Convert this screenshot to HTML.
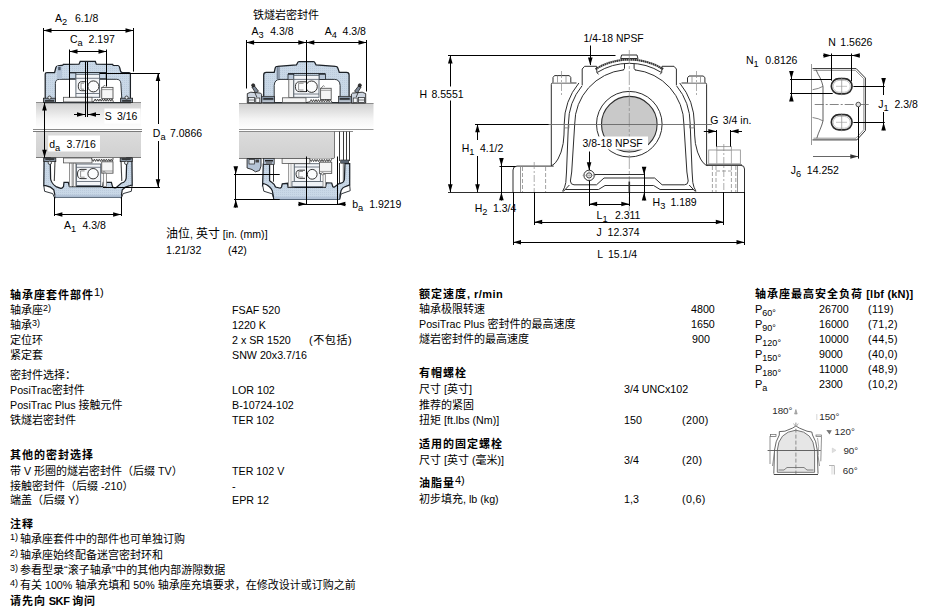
<!DOCTYPE html>
<html lang="zh"><head><meta charset="utf-8"><title>FSAF 520</title>
<style>
html,body{margin:0;padding:0;background:#fff;}
body{width:928px;height:615px;position:relative;overflow:hidden;font-family:"Liberation Sans","Noto Sans CJK SC",sans-serif;font-size:11px;color:#000;}
.t{position:absolute;white-space:nowrap;line-height:14px;height:14px;font-size:11px;}
.b{font-weight:bold;letter-spacing:1px;}
.b sup{font-weight:normal;letter-spacing:0;}
.l{font-size:10.7px;}
.b .l{font-size:11px;}
.d{font-size:12px;}
.d .l{font-size:10.6px;}
sup{font-size:9px;line-height:0;vertical-align:3px;margin-right:2px;}
sub{font-size:9px;line-height:0;vertical-align:-3px;}
sub .l,sup .l{font-size:inherit;}
.p{letter-spacing:.35px;}
svg{position:absolute;left:0;top:0;}
svg text{font-family:"Liberation Sans","Noto Sans CJK SC",sans-serif;}
</style></head><body>
<div class="t b" style="left:10px;top:288px">轴承座套件部件<sup><span class="l">1)</span></sup></div>
<div class="t " style="left:10px;top:303px">轴承座<sup><span class="l">2)</span></sup></div>
<div class="t " style="left:10px;top:318px">轴承<sup><span class="l">3)</span></sup></div>
<div class="t " style="left:10px;top:333px">定位环</div>
<div class="t " style="left:10px;top:348px">紧定套</div>
<div class="t " style="left:10px;top:368px">密封件选择：</div>
<div class="t " style="left:10px;top:383px"><span class="l">PosiTrac</span>密封件</div>
<div class="t " style="left:10px;top:398px"><span class="l">PosiTrac Plus </span>接触元件</div>
<div class="t " style="left:10px;top:413px">铁燧岩密封件</div>
<div class="t b" style="left:10px;top:448px">其他的密封选择</div>
<div class="t " style="left:10px;top:464px">带<span class="l"> V </span>形圈的燧岩密封件（后缀<span class="l"> TV</span>）</div>
<div class="t " style="left:10px;top:479px">接触密封件（后缀<span class="l"> -210</span>）</div>
<div class="t " style="left:10px;top:493px">端盖（后缀<span class="l"> Y</span>）</div>
<div class="t b" style="left:10px;top:517px">注释</div>
<div class="t " style="left:10px;top:532px"><sup><span class="l">1)</span></sup>轴承座套件中的部件也可单独订购</div>
<div class="t " style="left:10px;top:548px"><sup><span class="l">2)</span></sup>轴承座始终配备迷宫密封环和</div>
<div class="t " style="left:10px;top:563px"><sup><span class="l">3)</span></sup>参看型录“滚子轴承”中的其他内部游隙数据</div>
<div class="t " style="left:10px;top:578px"><sup><span class="l">4)</span></sup>有关<span class="l"> 100% </span>轴承充填和<span class="l"> 50% </span>轴承座充填要求，在修改设计或订购之前</div>
<div class="t b" style="left:10px;top:594px">请先向<span style="letter-spacing:-.4px"> SKF </span>询问</div>
<div class="t " style="left:232px;top:303px"><span class="l">FSAF 520</span></div>
<div class="t " style="left:232px;top:318px"><span class="l">1220 K</span></div>
<div class="t " style="left:232px;top:333px"><span class="l">2 x SR 1520</span></div>
<div class="t " style="left:309px;top:333px"><span style="letter-spacing:.6px">(不包括)</span></div>
<div class="t " style="left:232px;top:348px"><span class="l">SNW 20x3.7/16</span></div>
<div class="t " style="left:232px;top:383px"><span class="l">LOR 102</span></div>
<div class="t " style="left:232px;top:398px"><span class="l">B-10724-102</span></div>
<div class="t " style="left:232px;top:413px"><span class="l">TER 102</span></div>
<div class="t " style="left:232px;top:464px"><span class="l">TER 102 V</span></div>
<div class="t " style="left:232px;top:479px">-</div>
<div class="t " style="left:232px;top:493px"><span class="l">EPR 12</span></div>
<div class="t b" style="left:419px;top:287px">额定速度<span style="letter-spacing:.45px">, r/min</span></div>
<div class="t " style="left:419px;top:302px">轴承极限转速</div>
<div class="t " style="left:419px;top:317px"><span class="l">PosiTrac Plus </span>密封件的最高速度</div>
<div class="t " style="left:419px;top:332px">燧岩密封件的最高速度</div>
<div class="t " style="left:691px;top:302px"><span class="l">4800</span></div>
<div class="t " style="left:691px;top:317px"><span class="l">1650</span></div>
<div class="t " style="left:692px;top:332px"><span class="l">900</span></div>
<div class="t b" style="left:419px;top:366px">有帽螺栓</div>
<div class="t " style="left:419px;top:382px">尺寸<span class="l"> [</span>英寸]</div>
<div class="t " style="left:419px;top:398px">推荐的紧固</div>
<div class="t " style="left:419px;top:413px">扭矩<span class="l"> [ft.lbs (Nm)]</span></div>
<div class="t " style="left:624px;top:382px"><span class="l">3/4 UNCx102</span></div>
<div class="t " style="left:624px;top:413px"><span class="l">150</span></div>
<div class="t p" style="left:682px;top:413px"><span class="l">(200)</span></div>
<div class="t b" style="left:419px;top:437px">适用的固定螺栓</div>
<div class="t " style="left:419px;top:453px">尺寸<span class="l"> [</span>英寸<span class="l"> (</span>毫米<span class="l">)]</span></div>
<div class="t " style="left:624px;top:453px"><span class="l">3/4</span></div>
<div class="t p" style="left:682px;top:453px"><span class="l">(20)</span></div>
<div class="t b" style="left:419px;top:476px">油脂量<sup><span class="l">4)</span></sup></div>
<div class="t " style="left:419px;top:492px">初步填充<span class="l">, lb (kg)</span></div>
<div class="t " style="left:624px;top:492px"><span class="l">1,3</span></div>
<div class="t p" style="left:682px;top:492px"><span class="l">(0,6)</span></div>
<div class="t b" style="left:755px;top:287px">轴承座最高安全负荷<span style="letter-spacing:.2px"> [lbf (kN)]</span></div>
<div class="t " style="left:755px;top:302px">P<sub><span class="l">60</span>°</sub></div>
<div class="t " style="left:819px;top:302px"><span class="l">26700</span></div>
<div class="t p" style="left:868px;top:302px"><span class="l">(119)</span></div>
<div class="t " style="left:755px;top:317px">P<sub><span class="l">90</span>°</sub></div>
<div class="t " style="left:819px;top:317px"><span class="l">16000</span></div>
<div class="t p" style="left:868px;top:317px"><span class="l">(71,2)</span></div>
<div class="t " style="left:755px;top:332px">P<sub><span class="l">120</span>°</sub></div>
<div class="t " style="left:819px;top:332px"><span class="l">10000</span></div>
<div class="t p" style="left:868px;top:332px"><span class="l">(44,5)</span></div>
<div class="t " style="left:755px;top:347px">P<sub><span class="l">150</span>°</sub></div>
<div class="t " style="left:819px;top:347px"><span class="l">9000</span></div>
<div class="t p" style="left:868px;top:347px"><span class="l">(40,0)</span></div>
<div class="t " style="left:755px;top:362px">P<sub><span class="l">180</span>°</sub></div>
<div class="t " style="left:819px;top:362px"><span class="l">11000</span></div>
<div class="t p" style="left:868px;top:362px"><span class="l">(48,9)</span></div>
<div class="t " style="left:755px;top:377px">P<sub>a</sub></div>
<div class="t " style="left:819px;top:377px"><span class="l">2300</span></div>
<div class="t p" style="left:868px;top:377px"><span class="l">(10,2)</span></div>
<div class="t d" style="left:166px;top:227px">油位<span class="l">, </span>英寸<span class="l"> [in. (mm)]</span></div>
<div class="t d" style="left:166px;top:243px"><span class="l">1.21/32</span></div>
<div class="t d" style="left:228px;top:243px"><span class="l">(42)</span></div>
<div class="t " style="left:253px;top:8px">铁燧岩密封件</div>
<svg width="928" height="615" viewBox="0 0 928 615">
<defs><linearGradient id="shU" x1="0" y1="0" x2="0" y2="1"><stop offset="0" stop-color="#cfcfcf"/><stop offset="0.6" stop-color="#f4f4f4"/><stop offset="1" stop-color="#ffffff"/></linearGradient><linearGradient id="shL" x1="0" y1="0" x2="0" y2="1"><stop offset="0" stop-color="#dcdcdc"/><stop offset="1" stop-color="#d0d0d0"/></linearGradient><linearGradient id="baseF" x1="0" y1="0" x2="0" y2="1"><stop offset="0" stop-color="#d5e0ea"/><stop offset="1" stop-color="#ffffff"/></linearGradient><pattern id="hat" width="2" height="2" patternUnits="userSpaceOnUse"><rect width="2" height="2" fill="#c9d8e7"/><rect width="1" height="1" fill="#bccbdc"/></pattern></defs>
<rect x="36" y="102.5" width="105" height="27" fill="url(#shU)" stroke="none" stroke-width="1" />
<rect x="36" y="131" width="105" height="27" fill="url(#shL)" stroke="none" stroke-width="1" />
<line x1="33" y1="129.5" x2="142" y2="129.5" stroke="#8a8a8a" stroke-width="1" />
<line x1="33" y1="131.5" x2="142" y2="131.5" stroke="#7a7a7a" stroke-width="1" />
<line x1="36" y1="102.5" x2="141" y2="102.5" stroke="#8d8d8d" stroke-width="1" />
<line x1="36" y1="157.5" x2="141" y2="157.5" stroke="#777" stroke-width="1" />
<path d="M45.2,102.5 L45.2,74 Q45.2,72.5 47,72.5 L54.6,72.5 L55.9,67.5 Q56.3,66.1 58,65.9 L62.8,65.2 L63.3,64.3 L79,64.2 L80.2,61.4 L95.3,61.4 L96.3,64.2 L112.7,64.3 L113.2,65.4 L118,65.5 Q119.3,65.8 119.8,68 L120.5,71 Q120.9,72.6 122.5,72.6 L129,72.6 Q130.4,72.6 130.4,74.2 L130.4,102.5 Z" fill="url(#hat)" stroke="#1b2026" stroke-width="1.25" />
<path d="M55.4,102.5 L55.4,83.5 Q55.4,79.3 59.5,79.3 L116.5,79.3 Q120.6,79.3 120.9,83.5 L122,102.5 Z" fill="#fff" stroke="#1b2026" stroke-width="0.9" />
<rect x="57" y="66" width="5" height="13" fill="#b3c3d6" stroke="none" stroke-width="1" />
<rect x="58.2" y="66.8" width="2.4" height="3.4" fill="#4a5564" stroke="none" stroke-width="1" />
<rect x="69.4" y="73" width="6.5" height="5.5" fill="#c6d5e5" stroke="#1b2026" stroke-width="0.7" />
<rect x="99.6" y="73" width="6.5" height="5.5" fill="#c6d5e5" stroke="#1b2026" stroke-width="0.7" />
<line x1="69.4" y1="72.5" x2="106" y2="72.5" stroke="#1b2026" stroke-width="0.9" />
<rect x="75.9" y="74.3" width="23.7" height="23" fill="#f3f5f8" stroke="#55606c" stroke-width="0.9" />
<line x1="75.9" y1="78.3" x2="99.6" y2="78.3" stroke="#55606c" stroke-width="0.8" />
<line x1="75.9" y1="93.5" x2="99.6" y2="93.5" stroke="#55606c" stroke-width="0.8" />
<circle cx="93.4" cy="86.4" r="5.5" fill="#fbfcfd" stroke="#333" stroke-width="1"/>
<path d="M86.3,81.7 L81.5,81.7 Q78.3,81.7 78.3,86.2 Q78.3,90.7 81.5,90.7 L86.3,90.7" fill="#fbfcfd" stroke="#333" stroke-width="1" />
<path d="M84,83.2 L81,83.2 L81,89.2 L84,89.2" fill="none" stroke="#777" stroke-width="0.8" />
<rect x="63.5" y="97.3" width="28.5" height="4.6" fill="#f4f4f4" stroke="#555" stroke-width="0.8" />
<path d="M92,102 L94.0,101.2 L95.2,99.0 L96.4,101.2 L97.6,99.0 L98.8,101.2 L100.0,99.0 L101.2,101.2 L102.4,99.0 L103.6,101.2 L104.8,99.0 L106.0,101.2 L107.2,99.0 L108.4,101.2 L109.6,99.0 L110.8,101.2 L112.0,99.0 L113.2,101.2 L113.2,102" fill="#f4f4f4" stroke="#222" stroke-width="0.8" />
<rect x="101.7" y="87.4" width="11.3" height="11.2" fill="#f6f6f6" stroke="#555" stroke-width="0.9" />
<line x1="101.8" y1="89.6" x2="113" y2="89.6" stroke="#777" stroke-width="0.7" />
<path d="M101.8,88 L104.5,85.2 L105.5,86.2" fill="none" stroke="#555" stroke-width="0.8" />
<line x1="99.8" y1="90" x2="99.8" y2="98" stroke="#555" stroke-width="0.8" />
<rect x="43.5" y="98.2" width="12" height="4.3" fill="#8b97a5" stroke="#222" stroke-width="0.8" />
<circle cx="49.5" cy="97.6" r="1.6" fill="#e8eef4" stroke="#222" stroke-width="0.8"/>
<rect x="45" y="100.2" width="9" height="1.4" fill="#222" stroke="none" stroke-width="1" />
<rect x="120.6" y="98.2" width="12" height="4.3" fill="#8b97a5" stroke="#222" stroke-width="0.8" />
<circle cx="126.6" cy="97.6" r="1.6" fill="#e8eef4" stroke="#222" stroke-width="0.8"/>
<rect x="122.1" y="100.2" width="9" height="1.4" fill="#222" stroke="none" stroke-width="1" />
<path d="M44.1,158 L43.8,185.6 L45.7,185.6 Q51,186.5 53.8,189.9 L55.4,197.4 L121.1,197.4 L122.2,189.9 Q125,186.5 129.8,185.6 L132.2,185 L131.9,158 L126.8,158 L126.2,178 Q125.5,182.5 121.5,183 L116,187.7 Q113.2,188.3 112.5,186.6 L111.4,182.3 L103.3,182.3 L102.8,186.6 L69.4,186.6 L68.3,182.3 L64,182.3 L63.5,186.6 Q62,188.6 60.8,188.3 L56,186.6 Q51.5,183.5 50.6,179 L50.2,158 Z" fill="url(#hat)" stroke="#1b2026" stroke-width="1.25" />
<rect x="55.4" y="194.7" width="65.7" height="2.7" fill="#b4c4d8" stroke="none" stroke-width="1" />
<line x1="55.4" y1="197.4" x2="121.1" y2="197.4" stroke="#6a7a8c" stroke-width="0.8" />
<path d="M43.8,185.6 L44.6,191.3 L52.7,193.6 L54.9,198.5" fill="none" stroke="#1b2026" stroke-width="0.9" />
<path d="M132.2,185 L131.3,191.3 L123.2,193.6 L121.1,198.5" fill="none" stroke="#1b2026" stroke-width="0.9" />
<path d="M55,160 L54.3,181" fill="none" stroke="#444" stroke-width="1.1" />
<path d="M121,160 L121.8,181" fill="none" stroke="#444" stroke-width="1.1" />
<rect x="69.4" y="163" width="2.7" height="23.6" fill="#fafafa" stroke="#666" stroke-width="0.7" />
<rect x="73.2" y="163" width="2.7" height="23.6" fill="#fafafa" stroke="#666" stroke-width="0.7" />
<rect x="76.4" y="164" width="24.3" height="21.6" fill="#f3f5f8" stroke="#55606c" stroke-width="0.9" />
<line x1="76.4" y1="167.3" x2="100.7" y2="167.3" stroke="#55606c" stroke-width="0.8" />
<line x1="76.4" y1="181.5" x2="100.7" y2="181.5" stroke="#55606c" stroke-width="0.8" />
<circle cx="93.1" cy="173.7" r="5.2" fill="#fbfcfd" stroke="#333" stroke-width="1"/>
<path d="M86.6,169.4 L81,169.4 Q77.5,169.4 77.5,174 Q77.5,178.6 81,178.6 L86.6,178.6" fill="#fbfcfd" stroke="#333" stroke-width="1" />
<path d="M84.6,170.9 L80.6,170.9 L80.6,177.2 L84.6,177.2" fill="none" stroke="#777" stroke-width="0.8" />
<rect x="63.5" y="158" width="28.5" height="4.9" fill="#f4f4f4" stroke="#555" stroke-width="0.8" />
<path d="M91.5,158 L92.0,159.2 L93.2,161.4 L94.4,159.2 L95.6,161.4 L96.8,159.2 L98.0,161.4 L99.2,159.2 L100.4,161.4 L101.6,159.2 L102.8,161.4 L104.0,159.2 L105.2,161.4 L106.4,159.2 L107.6,161.4 L108.8,159.2 L110.0,161.4 L111.2,159.2 L112.4,161.4 L113.0,159.2 L113,158" fill="#f4f4f4" stroke="#222" stroke-width="0.8" />
<rect x="101.7" y="161.8" width="11.3" height="11.4" fill="#f6f6f6" stroke="#555" stroke-width="0.9" />
<line x1="101.7" y1="171" x2="113" y2="171" stroke="#777" stroke-width="0.7" />
<circle cx="104" cy="172.3" r="1" fill="#fff" stroke="#555" stroke-width="0.6"/>
<rect x="103.3" y="173.2" width="3.3" height="13.4" fill="#fafafa" stroke="#666" stroke-width="0.7" />
<rect x="43.8" y="158" width="12" height="3.6" fill="#8b97a5" stroke="#222" stroke-width="0.8" />
<circle cx="49.8" cy="162.8" r="1.7" fill="#e8eef4" stroke="#222" stroke-width="0.8"/>
<rect x="45.3" y="158.4" width="9" height="1.4" fill="#222" stroke="none" stroke-width="1" />
<rect x="120.2" y="158" width="12" height="3.6" fill="#8b97a5" stroke="#222" stroke-width="0.8" />
<circle cx="126.2" cy="162.8" r="1.7" fill="#e8eef4" stroke="#222" stroke-width="0.8"/>
<rect x="121.7" y="158.4" width="9" height="1.4" fill="#222" stroke="none" stroke-width="1" />
<line x1="43.5" y1="28" x2="43.5" y2="71.6" stroke="#000" stroke-width="1" />
<line x1="133.5" y1="28" x2="133.5" y2="71.6" stroke="#000" stroke-width="1" />
<line x1="43.5" y1="30.5" x2="133.5" y2="30.5" stroke="#000" stroke-width="1" /><polygon points="43.5,30.5 51.5,28.2 51.5,32.8" fill="#000"/><polygon points="133.5,30.5 125.5,28.2 125.5,32.8" fill="#000"/>
<line x1="69.5" y1="49.5" x2="69.5" y2="97.5" stroke="#000" stroke-width="1" />
<line x1="106.5" y1="49.5" x2="106.5" y2="86.5" stroke="#000" stroke-width="1" />
<line x1="69.5" y1="51.5" x2="106.5" y2="51.5" stroke="#000" stroke-width="1" /><polygon points="69.5,51.5 77.5,49.2 77.5,53.8" fill="#000"/><polygon points="106.5,51.5 98.5,49.2 98.5,53.8" fill="#000"/>
<line x1="85.5" y1="62" x2="85.5" y2="117" stroke="#000" stroke-width="1" />
<line x1="87.5" y1="62" x2="87.5" y2="117" stroke="#000" stroke-width="1" />
<line x1="74" y1="114.5" x2="85" y2="114.5" stroke="#000" stroke-width="1" />
<polygon points="85,114.5 77,112.2 77,116.8" fill="#000"/>
<line x1="88" y1="114.5" x2="100" y2="114.5" stroke="#000" stroke-width="1" />
<polygon points="88,114.5 96,112.2 96,116.8" fill="#000"/>
<line x1="100" y1="73.5" x2="160" y2="73.5" stroke="#000" stroke-width="1" />
<line x1="103" y1="187.5" x2="160" y2="187.5" stroke="#000" stroke-width="1" />
<line x1="158.5" y1="73.1" x2="158.5" y2="187.2" stroke="#000" stroke-width="1" /><polygon points="158,73.1 155.7,81.1 160.3,81.1" fill="#000"/><polygon points="158,187.2 155.7,179.2 160.3,179.2" fill="#000"/>
<line x1="44.5" y1="102.5" x2="44.5" y2="157.7" stroke="#000" stroke-width="1" /><polygon points="44.5,102.5 42.2,110.5 46.8,110.5" fill="#000"/><polygon points="44.5,157.7 42.2,149.7 46.8,149.7" fill="#000"/>
<line x1="54.5" y1="197" x2="54.5" y2="216" stroke="#000" stroke-width="1" />
<line x1="121.5" y1="197" x2="121.5" y2="216" stroke="#000" stroke-width="1" />
<line x1="54.4" y1="214.5" x2="121.1" y2="214.5" stroke="#000" stroke-width="1" /><polygon points="54.4,214.5 62.4,212.2 62.4,216.8" fill="#000"/><polygon points="121.1,214.5 113.1,212.2 113.1,216.8" fill="#000"/>
<rect x="48.2" y="135.5" width="51.8" height="16" fill="#fff" stroke="none" stroke-width="1" />
<rect x="104.4" y="108.5" width="36.2" height="15.2" fill="#fff" stroke="none" stroke-width="1" />
<rect x="150" y="124" width="60" height="17" fill="#fff" stroke="none" stroke-width="1" />
<text x="55" y="21.5" font-size="10.5">A<tspan dy="3" font-size="9.24">2</tspan><tspan dy="-3" x="75">6.1/8</tspan></text>
<text x="69.9" y="43" font-size="10.5">C<tspan dy="3" font-size="9.24">a</tspan><tspan dy="-3" x="88.6">2.197</tspan></text>
<text x="104.8" y="119.6" font-size="10.5" text-anchor="start" >S</text>
<text x="117" y="119.6" font-size="10.5" text-anchor="start" >3/16</text>
<text x="49.2" y="148" font-size="10.5">d<tspan dy="3" font-size="9.24">a</tspan><tspan dy="-3" x="66.6">3.7/16</tspan></text>
<text x="152.8" y="137" font-size="10.5">D<tspan dy="3" font-size="9.24">a</tspan><tspan dy="-3" x="170">7.0866</tspan></text>
<text x="64" y="229" font-size="10.5">A<tspan dy="3" font-size="9.24">1</tspan><tspan dy="-3" x="82.5">4.3/8</tspan></text>
<rect x="239" y="103" width="134.5" height="27" fill="url(#shU)" stroke="none" stroke-width="1" />
<rect x="239" y="131" width="95.2" height="27" fill="url(#shL)" stroke="none" stroke-width="1" />
<line x1="239" y1="129.5" x2="373.5" y2="129.5" stroke="#9a9a9a" stroke-width="1" />
<line x1="239" y1="131.5" x2="353" y2="131.5" stroke="#8a8a8a" stroke-width="1" />
<line x1="239" y1="103.5" x2="373.5" y2="103.5" stroke="#8d8d8d" stroke-width="1" />
<line x1="239" y1="158.5" x2="334.2" y2="158.5" stroke="#777" stroke-width="1" />
<line x1="334.5" y1="131" x2="334.5" y2="158" stroke="#777" stroke-width="1" />
<line x1="339.5" y1="131.5" x2="339.5" y2="161" stroke="#3a3a3a" stroke-width="1" />
<line x1="343.5" y1="131.5" x2="343.5" y2="161" stroke="#3a3a3a" stroke-width="1" />
<line x1="346.5" y1="131.5" x2="346.5" y2="161" stroke="#3a3a3a" stroke-width="1" />
<line x1="349.5" y1="131.5" x2="349.5" y2="161" stroke="#3a3a3a" stroke-width="1" />
<rect x="340.7" y="160" width="8" height="3.2" fill="#5a6573" stroke="#222" stroke-width="0.6" />
<path d="M263.7,102.5 L263.7,75 Q263.7,72.4 266.3,72.4 L274.2,72.4 L275.2,68 Q275.6,66.5 277.5,66.4 L296.5,64.8 L298,62 Q298.3,61.5 299.5,61.5 L313.3,61.5 Q314.2,61.5 314.5,62 L316,64.8 L335.5,66.4 Q337.3,66.5 337.8,68 L339.3,72.4 L346.5,72.4 Q349.1,72.4 349.1,75 L349.1,102.5 Z" fill="url(#hat)" stroke="#1b2026" stroke-width="1.25" />
<path d="M274.2,102.5 L274.2,85.5 Q274.5,79.4 280,79.4 L334.5,79.4 Q339.8,79.4 340.1,85.5 L340.1,102.5 Z" fill="#fff" stroke="#1b2026" stroke-width="0.9" />
<rect x="276.5" y="67" width="3.2" height="12" fill="#b3c3d6" stroke="none" stroke-width="1" />
<line x1="277.3" y1="67" x2="277.3" y2="79" stroke="#4a5564" stroke-width="0.7" />
<line x1="279" y1="67" x2="279" y2="79" stroke="#4a5564" stroke-width="0.7" />
<rect x="288" y="74.3" width="5.8" height="5.2" fill="#b9c8da" stroke="#1b2026" stroke-width="0.8" />
<rect x="319" y="74.3" width="6.5" height="5.2" fill="#b9c8da" stroke="#1b2026" stroke-width="0.8" />
<line x1="288" y1="73.5" x2="325.5" y2="73.5" stroke="#1b2026" stroke-width="0.9" />
<rect x="288.8" y="79.4" width="5" height="18" fill="#f4f4f4" stroke="#555" stroke-width="0.8" />
<rect x="293.8" y="75.3" width="25.2" height="22" fill="#f3f5f8" stroke="#55606c" stroke-width="0.9" />
<line x1="293.8" y1="79.4" x2="319" y2="79.4" stroke="#55606c" stroke-width="0.8" />
<line x1="293.8" y1="94" x2="319" y2="94" stroke="#55606c" stroke-width="0.8" />
<circle cx="311.6" cy="86.7" r="5.7" fill="#fbfcfd" stroke="#333" stroke-width="1"/>
<path d="M306,81.8 L299.5,81.8 Q295.4,81.8 295.4,86.7 Q295.4,91.6 299.5,91.6 L306,91.6" fill="#fbfcfd" stroke="#333" stroke-width="1" />
<path d="M303.5,83.3 L298.6,83.3 L298.6,90 L303.5,90" fill="none" stroke="#777" stroke-width="0.8" />
<rect x="282.4" y="97.8" width="23.6" height="4.6" fill="#f4f4f4" stroke="#555" stroke-width="0.8" />
<rect x="320.6" y="88.3" width="10.6" height="11.2" fill="#f6f6f6" stroke="#555" stroke-width="0.9" />
<line x1="320.6" y1="90.3" x2="331.2" y2="90.3" stroke="#777" stroke-width="0.7" />
<path d="M320.6,88.6 L323.5,85.6 L324.5,86.6" fill="none" stroke="#555" stroke-width="0.8" />
<path d="M306,102.6 L310.0,101.8 L311.2,99.6 L312.4,101.8 L313.6,99.6 L314.8,101.8 L316.0,99.6 L317.2,101.8 L318.4,99.6 L319.6,101.8 L320.8,99.6 L322.0,101.8 L323.2,99.6 L324.4,101.8 L325.6,99.6 L326.8,101.8 L328.0,99.6 L329.2,101.8 L330.4,99.6 L331.6,101.8 L332.0,101.8 L332,102.6" fill="#f4f4f4" stroke="#222" stroke-width="0.8" />
<rect x="258.9" y="96.3" width="15.6" height="6.5" fill="#8795a6" stroke="#222" stroke-width="0.7" /><rect x="263.3" y="98.2" width="10" height="1.4" fill="#1c1c1c" stroke="none" stroke-width="1" /><rect x="262.3" y="100.6" width="11.5" height="1" fill="#dfe5ec" stroke="none" stroke-width="1" /><path d="M247.3,103 L247.3,93.6 L250.8,92.2 L260.5,93.1 L261.6,94.2 L261.6,103 Z" fill="#ccd4df" stroke="#222" stroke-width="0.9" /><path d="M251.9,87 L254.5,86 L258.5,91.2 L255.6,93 Z" fill="#7d8998" stroke="#222" stroke-width="0.8" /><circle cx="253.2" cy="85.3" r="1.6" fill="#333" stroke="#111" stroke-width="0.6"/><path d="M254.8,92.5 L256.8,97" fill="none" stroke="#222" stroke-width="0.8" /><rect x="248.5" y="97.6" width="6" height="5" fill="#eef1f5" stroke="#222" stroke-width="0.7" /><line x1="248.5" y1="100" x2="254.5" y2="100" stroke="#444" stroke-width="0.7" /><rect x="255.8" y="98" width="4" height="4.6" fill="#f4f6f8" stroke="#222" stroke-width="0.7" />
<rect x="338.5" y="96.3" width="15.6" height="6.5" fill="#8795a6" stroke="#222" stroke-width="0.7" /><rect x="339.7" y="98.2" width="10" height="1.4" fill="#1c1c1c" stroke="none" stroke-width="1" /><rect x="339.2" y="100.6" width="11.5" height="1" fill="#dfe5ec" stroke="none" stroke-width="1" /><path d="M365.7,103 L365.7,93.6 L362.2,92.2 L352.5,93.1 L351.4,94.2 L351.4,103 Z" fill="#ccd4df" stroke="#222" stroke-width="0.9" /><path d="M361.1,87 L358.5,86 L354.5,91.2 L357.4,93 Z" fill="#7d8998" stroke="#222" stroke-width="0.8" /><circle cx="359.8" cy="85.3" r="1.6" fill="#333" stroke="#111" stroke-width="0.6"/><path d="M358.2,92.5 L356.2,97" fill="none" stroke="#222" stroke-width="0.8" /><rect x="358.5" y="97.6" width="6" height="5" fill="#eef1f5" stroke="#222" stroke-width="0.7" /><line x1="358.5" y1="100" x2="364.5" y2="100" stroke="#444" stroke-width="0.7" /><rect x="353.2" y="98" width="4" height="4.6" fill="#f4f6f8" stroke="#222" stroke-width="0.7" />
<path d="M263.3,164 L262.6,184.9 L263.5,183.5 Q267,184.5 269.1,186.5 Q271.5,188.5 272.3,190.7 L273.9,199.2 L339.6,199.2 L340.2,194.4 L341.2,190.2 Q342.5,187.8 344.4,187 Q347.5,185.8 349.7,184.9 L349.7,163.5 L345,163.5 L344.4,179.6 Q343.5,182.8 341,183.2 L338.6,183.8 L334.5,187 Q333,187.6 332.6,186 L331.7,183 L326.4,182.8 L325.4,187.4 L288.1,187.4 L287.6,183.3 L282.3,183.8 L281.5,187 Q281,188.3 279.5,188 L275.5,187 Q274.5,184 272,182.5 L269.6,180.7 L269.6,164 Z" fill="url(#hat)" stroke="#1b2026" stroke-width="1.25" />
<rect x="273.9" y="196.6" width="65.7" height="2.6" fill="#b4c4d8" stroke="none" stroke-width="1" />
<line x1="273.9" y1="199.5" x2="339.6" y2="199.5" stroke="#56677a" stroke-width="0.9" />
<path d="M262.6,184.9 L263.8,191.2 L272.3,193.9 L273.9,199.2" fill="none" stroke="#1b2026" stroke-width="0.9" />
<path d="M349.7,184.9 L350.2,190.7 L341.2,193.9 L339.6,199.2" fill="none" stroke="#1b2026" stroke-width="0.9" />
<line x1="273.5" y1="159" x2="273.5" y2="181.7" stroke="#333" stroke-width="1" />
<line x1="339.5" y1="163" x2="339.5" y2="183" stroke="#333" stroke-width="1" />
<line x1="343.3" y1="163" x2="343.3" y2="181" stroke="#555" stroke-width="0.8" />
<path d="M247.1,158.5 L261,158.5 L261,166 L259.5,170.5 L255.5,171.8 L252,169.5 L247.1,168 Z" fill="#b4c3d6" stroke="#222" stroke-width="0.9" />
<rect x="249" y="159.5" width="5.5" height="4.5" fill="#dfe6ee" stroke="#222" stroke-width="0.7" />
<rect x="255.5" y="159.5" width="3.5" height="3" fill="#444" stroke="none" stroke-width="1" />
<rect x="263.4" y="158.5" width="10.8" height="6" fill="#aab7c7" stroke="#222" stroke-width="0.7" />
<rect x="265" y="160" width="8" height="1.5" fill="#222" stroke="none" stroke-width="1" />
<rect x="266" y="162.5" width="6" height="1" fill="#444" stroke="none" stroke-width="1" />
<rect x="288.6" y="163.5" width="5.7" height="23.5" fill="#f2f2f2" stroke="#777" stroke-width="0.7" />
<line x1="291" y1="163.5" x2="291" y2="187" stroke="#999" stroke-width="0.6" />
<rect x="294.3" y="163.7" width="26.1" height="18" fill="#f3f5f8" stroke="#55606c" stroke-width="0.9" />
<line x1="294.3" y1="167" x2="320.4" y2="167" stroke="#55606c" stroke-width="0.8" />
<rect x="292" y="181.6" width="31.6" height="5" fill="#eef2f6" stroke="#55606c" stroke-width="0.8" />
<circle cx="312.2" cy="174.3" r="4.9" fill="#fbfcfd" stroke="#333" stroke-width="1"/>
<path d="M305,170.2 L299.5,170.2 Q296,170.2 296,174.3 Q296,178.3 299.5,178.3 L305,178.3" fill="#fbfcfd" stroke="#333" stroke-width="1" />
<path d="M303,171.5 L298.8,171.5 L298.8,177 L303,177" fill="none" stroke="#777" stroke-width="0.8" />
<rect x="282.1" y="158.5" width="27.7" height="5" fill="#f4f4f4" stroke="#555" stroke-width="0.8" />
<path d="M309.8,158.5 L310.0,159.4 L311.2,161.6 L312.4,159.4 L313.6,161.6 L314.8,159.4 L316.0,161.6 L317.2,159.4 L318.4,161.6 L319.6,159.4 L320.8,161.6 L322.0,159.4 L323.2,161.6 L324.4,159.4 L325.6,161.6 L326.8,159.4 L328.0,161.6 L329.2,159.4 L330.4,161.6 L331.6,159.4 L331.7,159.4 L331.7,158.5" fill="#f4f4f4" stroke="#222" stroke-width="0.8" />
<rect x="319.5" y="162.2" width="12.2" height="11.2" fill="#f6f6f6" stroke="#555" stroke-width="0.9" />
<line x1="319.5" y1="171.4" x2="331.7" y2="171.4" stroke="#777" stroke-width="0.7" />
<circle cx="322.5" cy="173.8" r="1.2" fill="#fff" stroke="#555" stroke-width="0.7"/>
<rect x="323" y="174.5" width="2.5" height="12.5" fill="#f2f2f2" stroke="#777" stroke-width="0.7" />
<line x1="246.5" y1="40" x2="246.5" y2="88.5" stroke="#000" stroke-width="1" />
<line x1="306.5" y1="40" x2="306.5" y2="92" stroke="#000" stroke-width="1" />
<line x1="366.5" y1="40" x2="366.5" y2="91.5" stroke="#000" stroke-width="1" />
<line x1="246.1" y1="42.5" x2="306.3" y2="42.5" stroke="#000" stroke-width="1" /><polygon points="246.1,42.5 254.1,40.2 254.1,44.8" fill="#000"/><polygon points="306.3,42.5 298.3,40.2 298.3,44.8" fill="#000"/>
<line x1="306.3" y1="42.5" x2="366.5" y2="42.5" stroke="#000" stroke-width="1" /><polygon points="306.3,42.5 314.3,40.2 314.3,44.8" fill="#000"/><polygon points="366.5,42.5 358.5,40.2 358.5,44.8" fill="#000"/>
<line x1="306.5" y1="156.5" x2="306.5" y2="205" stroke="#000" stroke-width="1" />
<line x1="337.5" y1="156.5" x2="337.5" y2="205" stroke="#000" stroke-width="1" />
<line x1="298.4" y1="204.5" x2="345.6" y2="204.5" stroke="#000" stroke-width="1" />
<polygon points="306.5,204 298.5,201.7 298.5,206.3" fill="#000"/>
<polygon points="337.4,204 345.4,201.7 345.4,206.3" fill="#000"/>
<line x1="235.5" y1="167" x2="235.5" y2="207.6" stroke="#000" stroke-width="1" />
<polygon points="235.8,174.3 233.5,166.3 238.1,166.3" fill="#000"/>
<polygon points="235.8,199.5 233.5,207.5 238.1,207.5" fill="#000"/>
<line x1="234" y1="174.5" x2="279.7" y2="174.5" stroke="#000" stroke-width="1" />
<line x1="234" y1="199.5" x2="279.7" y2="199.5" stroke="#000" stroke-width="1" />
<text x="251.5" y="34.5" font-size="10.5">A<tspan dy="3" font-size="9.24">3</tspan><tspan dy="-3" x="270.2">4.3/8</tspan></text>
<text x="324.7" y="34.5" font-size="10.5">A<tspan dy="3" font-size="9.24">4</tspan><tspan dy="-3" x="342.6">4.3/8</tspan></text>
<text x="352.2" y="208" font-size="10.5">b<tspan dy="3" font-size="9.24">a</tspan><tspan dy="-3" x="369.2">1.9219</tspan></text>
<circle cx="629.3" cy="124.2" r="32.8" fill="#fff" stroke="#2e2e2e" stroke-width="1"/>
<circle cx="629.3" cy="124.2" r="27.8" fill="#c9c9c9" stroke="#2e2e2e" stroke-width="1.1"/>
<path d="M564.20,124.20 A65.1,65.1 0 0 1 578.92,82.97" fill="none" stroke="#2e2e2e" stroke-width="1" />
<path d="M679.68,82.97 A65.1,65.1 0 0 1 694.40,124.20" fill="none" stroke="#2e2e2e" stroke-width="1" />
<path d="M595.45,69.18 A64.6,64.6 0 0 1 663.15,69.18" fill="none" stroke="#3c3c3c" stroke-width="2.1" stroke-dasharray="1.7 0.35"/>
<path d="M568.40,124.20 A60.9,60.9 0 0 1 582.17,85.63" fill="none" stroke="#2e2e2e" stroke-width="1" />
<path d="M597.21,72.44 A60.9,60.9 0 0 1 661.39,72.44" fill="none" stroke="#2e2e2e" stroke-width="1" />
<path d="M676.43,85.63 A60.9,60.9 0 0 1 690.20,124.20" fill="none" stroke="#2e2e2e" stroke-width="1" />
<path d="M574.70,124.20 A54.6,54.6 0 0 1 623.59,69.90" fill="none" stroke="#2e2e2e" stroke-width="1" />
<path d="M635.01,69.90 A54.6,54.6 0 0 1 683.90,124.20" fill="none" stroke="#2e2e2e" stroke-width="1" />
<path d="M624.5,63.4 L624.5,68.4 Q624.4,69.6 622.9,70" fill="none" stroke="#2e2e2e" stroke-width="1" />
<path d="M634.1,63.4 L634.1,68.4 Q634.2,69.6 635.7,70" fill="none" stroke="#2e2e2e" stroke-width="1" />
<path d="M620.6,58.8 L621.6,55 L637,55 L638,58.8" fill="#fff" stroke="#2e2e2e" stroke-width="1" />
<line x1="621" y1="58.5" x2="637.6" y2="58.5" stroke="#2e2e2e" stroke-width="1" />
<path d="M582.2,85 L582.2,69 L584.6,66.3 L596.6,66.3 L596.9,72.5 L598.5,74.4" fill="none" stroke="#2e2e2e" stroke-width="1" />
<path d="M676.4,85 L676.4,69 L674,66.3 L662,66.3 L661.7,72.5 L660.1,74.4" fill="none" stroke="#2e2e2e" stroke-width="1" />
<path d="M551.3,165.6 L551.3,84.5 Q551.3,83 552.6,83 L576.5,83" fill="none" stroke="#2e2e2e" stroke-width="1" />
<path d="M706.6,165 L706.6,84.5 Q706.6,83 705.3,83 L681.5,83" fill="none" stroke="#2e2e2e" stroke-width="1" />
<path d="M553,82.6 L553,77.5 L554.5,75.6 L569.3,75.6 L570.8,77.5 L570.8,82.6" fill="#fff" stroke="#2e2e2e" stroke-width="1" />
<line x1="557.5" y1="75.6" x2="557.5" y2="82.6" stroke="#8a8a8a" stroke-width="0.8" />
<line x1="566" y1="75.6" x2="566" y2="82.6" stroke="#8a8a8a" stroke-width="0.8" />
<path d="M687.5,82.6 L687.5,77.8 L689,76 L703.4,76 L704.9,77.8 L704.9,82.6" fill="#fff" stroke="#2e2e2e" stroke-width="1" />
<line x1="692" y1="76" x2="692" y2="82.6" stroke="#8a8a8a" stroke-width="0.8" />
<line x1="700.5" y1="76" x2="700.5" y2="82.6" stroke="#8a8a8a" stroke-width="0.8" />
<line x1="561.5" y1="71" x2="561.5" y2="95" stroke="#8a8a8a" stroke-width="0.7" stroke-dasharray="7 2 2 2"/>
<line x1="696.5" y1="71" x2="696.5" y2="95" stroke="#8a8a8a" stroke-width="0.7" stroke-dasharray="7 2 2 2"/>
<line x1="629.3" y1="50" x2="629.3" y2="215" stroke="#8a8a8a" stroke-width="0.7" stroke-dasharray="14 2 3 2"/>
<line x1="548.8" y1="124.5" x2="712" y2="124.5" stroke="#666" stroke-width="0.9" />
<path d="M564.3,124.5 Q564.2,136 563.2,143.4 Q561.5,153 558,159 Q555.5,163.5 552.8,165 L551,165.6" fill="none" stroke="#2e2e2e" stroke-width="1" />
<path d="M568.4,124.5 L566.5,172 L565.8,182.5 Q565,187.5 562.6,191.3" fill="none" stroke="#2e2e2e" stroke-width="1" />
<path d="M574.7,124.5 L571.7,172 L570.4,181 Q570.6,184.8 574,184.8 L596.5,184.8 L604,178 L654.6,178 L662.1,184.8 L684.6,184.8 Q688,184.8 688.2,181 L686.9,172 L683.9,124.5" fill="none" stroke="#2e2e2e" stroke-width="1" />
<path d="M565.3,189.5 L598.5,189.5 L605,185.5 L653.6,185.5 L660.1,189.5 L693.3,189.5" fill="none" stroke="#2e2e2e" stroke-width="1" />
<line x1="563.2" y1="191.6" x2="569.4" y2="185" stroke="#2e2e2e" stroke-width="1" />
<line x1="695.4" y1="191.6" x2="689.2" y2="185" stroke="#2e2e2e" stroke-width="1" />
<path d="M694.3,124.5 Q694.4,136 695.4,143.4 Q697.1,153 700.6,159 Q703.1,163.5 705.8,165 L707.6,165.6" fill="none" stroke="#2e2e2e" stroke-width="1" />
<path d="M690.2,124.5 L692.1,172 L692.8,182.5 Q693.6,187.5 696,191.3" fill="none" stroke="#2e2e2e" stroke-width="1" />
<rect x="564.5" y="124.5" width="4.4" height="3.4" fill="none" stroke="#777" stroke-width="0.8" />
<rect x="689.7" y="124.5" width="4.4" height="3.4" fill="none" stroke="#777" stroke-width="0.8" />
<path d="M553.7,166.1 L517,166.1 Q513,166.1 513,170 L513,192.2" fill="none" stroke="#2e2e2e" stroke-width="1" />
<path d="M706.2,165.4 L741,165.4 Q744.5,165.4 744.5,169 L744.5,192.2" fill="none" stroke="#2e2e2e" stroke-width="1" />
<line x1="448" y1="192.5" x2="744.5" y2="192.5" stroke="#2e2e2e" stroke-width="1" />
<line x1="520.5" y1="166.5" x2="520.5" y2="192" stroke="#8a8a8a" stroke-width="0.9" />
<line x1="737.5" y1="166" x2="737.5" y2="192" stroke="#8a8a8a" stroke-width="0.9" />
<line x1="522.5" y1="167" x2="522.5" y2="192" stroke="#8a8a8a" stroke-width="0.8" stroke-dasharray="4 2"/>
<line x1="545.6" y1="167" x2="545.6" y2="192" stroke="#8a8a8a" stroke-width="0.8" stroke-dasharray="4 2"/>
<line x1="534.2" y1="162" x2="534.2" y2="192" stroke="#8a8a8a" stroke-width="0.7" stroke-dasharray="7 2 2 2"/>
<line x1="712.4" y1="166" x2="712.4" y2="192" stroke="#8a8a8a" stroke-width="0.8" stroke-dasharray="4 2"/>
<line x1="716" y1="166" x2="716" y2="192" stroke="#8a8a8a" stroke-width="0.8" stroke-dasharray="4 2"/>
<line x1="731.4" y1="166" x2="731.4" y2="192" stroke="#8a8a8a" stroke-width="0.8" stroke-dasharray="4 2"/>
<line x1="735.8" y1="166" x2="735.8" y2="192" stroke="#8a8a8a" stroke-width="0.8" stroke-dasharray="4 2"/>
<line x1="716" y1="171" x2="731.4" y2="171" stroke="#8a8a8a" stroke-width="0.8" stroke-dasharray="4 2"/>
<rect x="708.7" y="150" width="31.7" height="13.8" fill="#fff" stroke="#999" stroke-width="0.9" />
<line x1="716.8" y1="150" x2="716.8" y2="163.8" stroke="#999" stroke-width="0.8" />
<line x1="731.4" y1="150" x2="731.4" y2="163.8" stroke="#999" stroke-width="0.8" />
<rect x="716.8" y="146.6" width="14.6" height="3.4" fill="#fff" stroke="#999" stroke-width="0.9" />
<line x1="706.5" y1="164.5" x2="742" y2="164.5" stroke="#777" stroke-width="0.9" />
<line x1="723.8" y1="144" x2="723.8" y2="192" stroke="#8a8a8a" stroke-width="0.7" stroke-dasharray="7 2 2 2"/>
<circle cx="589.1" cy="175.4" r="5.2" fill="#fff" stroke="#2e2e2e" stroke-width="1"/>
<circle cx="589.1" cy="175.4" r="2.6" fill="none" stroke="#2e2e2e" stroke-width="0.9"/>
<line x1="582.5" y1="175.4" x2="595.7" y2="175.4" stroke="#8a8a8a" stroke-width="0.6" />
<line x1="589.1" y1="169" x2="589.1" y2="182" stroke="#8a8a8a" stroke-width="0.6" />
<line x1="594.5" y1="174.5" x2="645" y2="174.5" stroke="#2e2e2e" stroke-width="1" />
<line x1="629.3" y1="181.6" x2="629.3" y2="192" stroke="#2e2e2e" stroke-width="1.6" />
<line x1="448" y1="55.5" x2="615.5" y2="55.5" stroke="#000" stroke-width="1" />
<line x1="450.5" y1="55.5" x2="450.5" y2="192.2" stroke="#000" stroke-width="1" /><polygon points="450.3,55.5 448,63.5 452.6,63.5" fill="#000"/><polygon points="450.3,192.2 448,184.2 452.6,184.2" fill="#000"/>
<line x1="475" y1="124.5" x2="548.8" y2="124.5" stroke="#000" stroke-width="1" />
<line x1="477.5" y1="124.3" x2="477.5" y2="192.2" stroke="#000" stroke-width="1" /><polygon points="477.5,124.3 475.2,132.3 479.8,132.3" fill="#000"/><polygon points="477.5,192.2 475.2,184.2 479.8,184.2" fill="#000"/>
<line x1="499.5" y1="166.5" x2="515.5" y2="166.5" stroke="#000" stroke-width="1" />
<line x1="501.5" y1="158.5" x2="501.5" y2="200.5" stroke="#000" stroke-width="1" />
<polygon points="501.4,166.1 499.1,158.1 503.7,158.1" fill="#000"/>
<polygon points="501.4,192.2 499.1,200.2 503.7,200.2" fill="#000"/>
<line x1="590.5" y1="45.5" x2="590.5" y2="65" stroke="#000" stroke-width="1" />
<polygon points="590.3,65.5 588,57.5 592.6,57.5" fill="#000"/>
<line x1="589.5" y1="151.5" x2="589.5" y2="170" stroke="#000" stroke-width="1" />
<polygon points="589.1,170.2 586.8,162.2 591.4,162.2" fill="#000"/>
<line x1="589.5" y1="180.6" x2="589.5" y2="206" stroke="#000" stroke-width="1" />
<line x1="629.5" y1="192" x2="629.5" y2="206" stroke="#000" stroke-width="1" />
<line x1="589.1" y1="204.5" x2="629.3" y2="204.5" stroke="#000" stroke-width="1" /><polygon points="589.1,204 597.1,201.7 597.1,206.3" fill="#000"/><polygon points="629.3,204 621.3,201.7 621.3,206.3" fill="#000"/>
<line x1="644.5" y1="167" x2="644.5" y2="200.3" stroke="#000" stroke-width="1" />
<polygon points="644.1,174.8 641.8,166.8 646.4,166.8" fill="#000"/>
<polygon points="644.1,192.4 641.8,200.4 646.4,200.4" fill="#000"/>
<line x1="534.5" y1="192" x2="534.5" y2="225" stroke="#000" stroke-width="1" />
<line x1="723.5" y1="192" x2="723.5" y2="225" stroke="#000" stroke-width="1" />
<line x1="534.2" y1="222.5" x2="723.8" y2="222.5" stroke="#000" stroke-width="1" /><polygon points="534.2,222 542.2,219.7 542.2,224.3" fill="#000"/><polygon points="723.8,222 715.8,219.7 715.8,224.3" fill="#000"/>
<line x1="513.5" y1="192" x2="513.5" y2="245" stroke="#000" stroke-width="1" />
<line x1="744.5" y1="192" x2="744.5" y2="245" stroke="#000" stroke-width="1" />
<line x1="513" y1="242.5" x2="744.5" y2="242.5" stroke="#000" stroke-width="1" /><polygon points="513,242.3 521,240 521,244.6" fill="#000"/><polygon points="744.5,242.3 736.5,240 736.5,244.6" fill="#000"/>
<line x1="716.5" y1="130" x2="716.5" y2="146.6" stroke="#000" stroke-width="1" />
<line x1="730.5" y1="130" x2="730.5" y2="146.6" stroke="#000" stroke-width="1" />
<line x1="703.8" y1="131.5" x2="716.3" y2="131.5" stroke="#000" stroke-width="1" />
<polygon points="716.3,131.2 708.3,128.9 708.3,133.5" fill="#000"/>
<line x1="730.6" y1="131.5" x2="742" y2="131.5" stroke="#000" stroke-width="1" />
<polygon points="730.6,131.2 738.6,128.9 738.6,133.5" fill="#000"/>
<rect x="460" y="140" width="46" height="16" fill="#fff" stroke="none" stroke-width="1" />
<rect x="417" y="86.5" width="62" height="14" fill="#fff" stroke="none" stroke-width="1" />
<rect x="581.5" y="136.5" width="66.5" height="13" fill="#fff" stroke="none" stroke-width="1" />
<text x="583.6" y="42" font-size="10.4" text-anchor="start" >1/4-18 NPSF</text>
<text x="582.6" y="146.7" font-size="10.4" text-anchor="start" >3/8-18 NPSF</text>
<text x="419.5" y="97.8" font-size="10.5" text-anchor="start" >H</text>
<text x="431.5" y="97.8" font-size="10.5" text-anchor="start" >8.5551</text>
<text x="461.7" y="152" font-size="10.5">H<tspan dy="3" font-size="9.24">1</tspan><tspan dy="-3" x="480">4.1/2</tspan></text>
<text x="474.7" y="212" font-size="10.5">H<tspan dy="3" font-size="9.24">2</tspan><tspan dy="-3" x="493">1.3/4</tspan></text>
<text x="652.6" y="206" font-size="10.5">H<tspan dy="3" font-size="9.24">3</tspan><tspan dy="-3" x="670.4">1.189</tspan></text>
<text x="596.6" y="218.5" font-size="10.5">L<tspan dy="3" font-size="9.24">1</tspan><tspan dy="-3" x="614.9">2.311</tspan></text>
<text x="596.6" y="236" font-size="10.5" text-anchor="start" >J</text>
<text x="607.6" y="236" font-size="10.5" text-anchor="start" >12.374</text>
<text x="597.2" y="258" font-size="10.5" text-anchor="start" >L</text>
<text x="608" y="258" font-size="10.5" text-anchor="start" >15.1/4</text>
<text x="710.2" y="123.6" font-size="10.5" text-anchor="start" >G</text>
<text x="722.8" y="123.6" font-size="10.5" text-anchor="start" >3/4 in.</text>
<line x1="811.5" y1="64" x2="811.5" y2="145" stroke="#999" stroke-width="1" />
<path d="M812.5,68.6 L856.2,68.6 L865.4,78 L865.4,130.5 L856.9,139.9 L812.5,139.9" fill="none" stroke="#2e2e2e" stroke-width="1" />
<path d="M813.5,70.4 L855.4,70.4 L863.8,78.8 L863.8,129.8 L856,138.2 L813.5,138.2" fill="none" stroke="#777" stroke-width="0.8" />
<path d="M816,69.7 Q818,74.5 820.2,78 Q822,82 823,86.3" fill="none" stroke="#555" stroke-width="0.9" />
<path d="M823,120.9 Q822,125 820.2,129.2 Q818,134 816.8,138.2" fill="none" stroke="#555" stroke-width="0.9" />
<line x1="823" y1="86.3" x2="823" y2="120.9" stroke="#9a9a9a" stroke-width="1.6" />
<path d="M812.6,89.7 Q819,88.8 823,86.3" fill="none" stroke="#666" stroke-width="0.8" />
<path d="M812.6,117.5 Q819,118.4 823,120.9" fill="none" stroke="#666" stroke-width="0.8" />
<line x1="814.7" y1="104.5" x2="869.3" y2="104.5" stroke="#666" stroke-width="0.8" stroke-dasharray="9 2 2 2"/>
<rect x="831.35" y="78.7" width="20.7" height="15.2" rx="7.6" ry="7.6" fill="#fff" stroke="#2a2a2a" stroke-width="1.7"/>
<rect x="833.1" y="80.4" width="17.2" height="11.8" rx="5.9" ry="5.9" fill="#fff" stroke="#999" stroke-width="0.6"/>
<line x1="841.7" y1="77.3" x2="841.7" y2="95.3" stroke="#888" stroke-width="0.7" />
<line x1="836" y1="86.3" x2="847" y2="86.3" stroke="#999" stroke-width="0.6" />
<rect x="831.35" y="114.7" width="20.7" height="15.2" rx="7.6" ry="7.6" fill="#fff" stroke="#2a2a2a" stroke-width="1.7"/>
<rect x="833.1" y="116.4" width="17.2" height="11.8" rx="5.9" ry="5.9" fill="#fff" stroke="#999" stroke-width="0.6"/>
<line x1="841.7" y1="113.3" x2="841.7" y2="131.3" stroke="#888" stroke-width="0.7" />
<line x1="836" y1="122.3" x2="847" y2="122.3" stroke="#999" stroke-width="0.6" />
<circle cx="858.3" cy="104.5" r="2.3" fill="#ddd" stroke="#444" stroke-width="0.9"/>
<line x1="831.5" y1="53.5" x2="831.5" y2="80.7" stroke="#000" stroke-width="1" />
<line x1="851.5" y1="53.5" x2="851.5" y2="81.4" stroke="#000" stroke-width="1" />
<line x1="823.2" y1="55.5" x2="859.7" y2="55.5" stroke="#000" stroke-width="1" />
<polygon points="831.5,55.5 823.5,53.2 823.5,57.8" fill="#000"/>
<polygon points="851.8,55.5 859.8,53.2 859.8,57.8" fill="#000"/>
<line x1="791.5" y1="72" x2="791.5" y2="100.7" stroke="#000" stroke-width="1" />
<polygon points="791.4,79 789.1,71 793.7,71" fill="#000"/>
<polygon points="791.4,93.5 789.1,101.5 793.7,101.5" fill="#000"/>
<line x1="790" y1="79.5" x2="832" y2="79.5" stroke="#000" stroke-width="1" />
<line x1="790" y1="93.5" x2="832.7" y2="93.5" stroke="#000" stroke-width="1" />
<line x1="883.5" y1="78.3" x2="883.5" y2="130.2" stroke="#000" stroke-width="1" />
<polygon points="883.6,86 881.3,78 885.9,78" fill="#000"/>
<polygon points="883.6,122.5 881.3,130.5 885.9,130.5" fill="#000"/>
<line x1="853.4" y1="86.5" x2="884.8" y2="86.5" stroke="#000" stroke-width="1" />
<line x1="853.4" y1="122.5" x2="884.8" y2="122.5" stroke="#000" stroke-width="1" />
<line x1="858.5" y1="107" x2="858.5" y2="158.6" stroke="#000" stroke-width="1" />
<line x1="813" y1="156.5" x2="858.3" y2="156.5" stroke="#666" stroke-width="1" />
<polygon points="858.3,156.5 850.3,154.2 850.3,158.8" fill="#333"/>
<rect x="876" y="95" width="44" height="17" fill="#fff" stroke="none" stroke-width="1" />
<text x="828.3" y="46" font-size="10.5" text-anchor="start" >N</text>
<text x="840.3" y="46" font-size="10.5" text-anchor="start" >1.5626</text>
<text x="746" y="63.5" font-size="10.5">N<tspan dy="3" font-size="9.24">1</tspan><tspan dy="-3" x="765.3">0.8126</tspan></text>
<text x="878.3" y="107.5" font-size="10.5">J<tspan dy="3" font-size="9.24">1</tspan><tspan dy="-3" x="894.5">2.3/8</tspan></text>
<text x="790.7" y="174" font-size="10.5">J<tspan dy="3" font-size="9.24">6</tspan><tspan dy="-3" x="806.8">14.252</tspan></text>
<path d="M777.3,472.3 L777.3,450.2 Q778.5,432 795.9,430.2 Q813.3,432 814.6,450.2 L814.6,472.3 Z" fill="#e6e6e6" stroke="#666" stroke-width="0.9" />
<path d="M773.8,473.7 L774.5,450.2 Q775.5,441 779.3,435 L779.3,431.6 L784.9,431.2 L792.5,428.1 L795.9,426 L799.4,428.1 L807,431.2 L811.8,432 L812.5,435 Q816.5,441 817.3,450.2 L818,473.7" fill="none" stroke="#555" stroke-width="0.9" />
<line x1="773.8" y1="474.5" x2="818" y2="474.5" stroke="#444" stroke-width="1.1" />
<path d="M778.5,470 L784,470 L787,467.5 L804,467.5 L807,470 L813.5,470" fill="none" stroke="#666" stroke-width="0.8" />
<line x1="767.6" y1="450.5" x2="820.8" y2="450.5" stroke="#555" stroke-width="0.9" />
<line x1="795.9" y1="422.6" x2="795.9" y2="475.1" stroke="#666" stroke-width="0.7" stroke-dasharray="4 2"/>
<path d="M775.5,436 L770,436 L770,464" fill="none" stroke="#777" stroke-width="0.8" />
<rect x="770.5" y="434.5" width="5.5" height="2" fill="#fff" stroke="#666" stroke-width="0.7" />
<path d="M774.5,452 L772.5,466" fill="none" stroke="#777" stroke-width="0.8" />
<rect x="816" y="435" width="5.5" height="1.6" fill="#fff" stroke="#666" stroke-width="0.7" />
<path d="M821.5,436.5 L820.8,461.3" fill="none" stroke="#777" stroke-width="0.8" />
<path d="M817.5,452 L819.5,466" fill="none" stroke="#777" stroke-width="0.8" />
<path d="M817.5,438 Q819.5,446 818.2,455" fill="none" stroke="#888" stroke-width="0.7" />
<path d="M793.5,423.5 L795.9,427 L798.3,423.5" fill="none" stroke="#999" stroke-width="0.7" />
<path d="M794.6,414 L795.9,409.5 L797.2,414 Z" fill="#bbb" stroke="#777" stroke-width="0.5" />
<line x1="816.8" y1="414" x2="816.8" y2="420" stroke="#ccc" stroke-width="0.8" />
<path d="M826.3,430 L831.8,430.3 L829.5,434.5 Z" fill="#777" stroke="none" stroke-width="1" />
<path d="M832.3,448 L836,450.3 L832.3,452.6 Z" fill="#e0e0e0" stroke="#ccc" stroke-width="0.6" />
<path d="M829,465.5 L834.3,465.5 L834.3,474.5" fill="none" stroke="#aaa" stroke-width="0.9" />
<line x1="832" y1="466" x2="832" y2="474.5" stroke="#ccc" stroke-width="0.8" />
<text x="772.2" y="413.6" font-size="9.8" fill="#2a2a2a">180°</text>
<text x="819.2" y="419.8" font-size="9.8" fill="#2a2a2a">150°</text>
<text x="834.6" y="435" font-size="9.8" fill="#2a2a2a">120°</text>
<text x="843.4" y="453.6" font-size="9.8" fill="#2a2a2a">90°</text>
<text x="842.8" y="473.8" font-size="9.8" fill="#2a2a2a">60°</text>
</svg>
</body></html>
